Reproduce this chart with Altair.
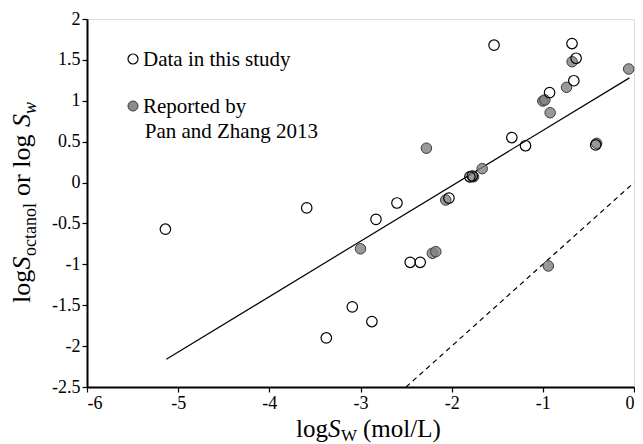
import altair as alt
import pandas as pd

# ---- data ----
study_x = [-5.14, -3.59, -3.375, -3.09, -2.875, -2.83, -2.60, -2.455, -2.345, -2.03,
           -1.80, -1.774, -1.535, -1.34, -1.19, -0.926, -0.68, -0.635, -0.66, -0.42]
study_y = [-0.57, -0.31, -1.90, -1.52, -1.70, -0.45, -0.25, -0.975, -0.975, -0.19,
           0.07, 0.08, 1.68, 0.55, 0.45, 1.10, 1.70, 1.52, 1.245, 0.46]

pan_x = [-3.00, -2.212, -2.174, -2.277, -2.065, -1.76, -1.665, -1.00, -0.978, -0.92,
         -0.74, -0.679, -0.058, -0.41, -0.94]
pan_y = [-0.81, -0.865, -0.845, 0.42, -0.213, 0.07, 0.17, 0.997, 1.01, 0.854,
         1.165, 1.478, 1.389, 0.48, -1.02]

fit_x = [-5.13, -0.05]
fit_y = [-2.16, 1.28]

one_x = [-2.5, 0.0]
one_y = [-2.5, 0.0]

x_ticks = [-6, -5, -4, -3, -2, -1, 0]
y_ticks = [-2.5, -2, -1.5, -1, -0.5, 0, 0.5, 1, 1.5, 2]

legend_labels = ["Data in this study", "Reported by", "Pan and Zhang 2013"]

FONT = "Liberation Serif"

xs = alt.Scale(domain=[-6, 0], nice=False, zero=False)
ys = alt.Scale(domain=[-2.5, 2], nice=False, zero=False)

xaxis = alt.Axis(values=x_ticks, title=None, grid=False, tickSize=5, tickColor="black",
                 domainColor="black", domainWidth=2, tickWidth=1.2,
                 labelFont=FONT, labelFontSize=18, labelColor="black", labelPadding=2,
                 labelExpr="datum.value + ''")
yaxis = alt.Axis(values=y_ticks, title=None, grid=False, tickSize=5, tickColor="black",
                 domainColor="black", domainWidth=2, tickWidth=1.2,
                 labelFont=FONT, labelFontSize=18, labelColor="black", labelPadding=2,
                 labelExpr="datum.value + ''")

study = pd.DataFrame({"x": study_x, "y": study_y})
pan = pd.DataFrame({"x": pan_x, "y": pan_y})
fit = pd.DataFrame({"x": fit_x, "y": fit_y})
one = pd.DataFrame({"x": one_x, "y": one_y})

base_x = alt.X("x:Q", scale=xs, axis=xaxis)
base_y = alt.Y("y:Q", scale=ys, axis=yaxis)

fit_line = alt.Chart(fit).mark_line(color="black", strokeWidth=1.2).encode(x=base_x, y=base_y)
one_line = alt.Chart(one).mark_line(color="black", strokeWidth=1.2, strokeDash=[5, 4]).encode(
    x=alt.X("x:Q", scale=xs), y=alt.Y("y:Q", scale=ys))
pan_pts = alt.Chart(pan).mark_point(shape="circle", size=110, filled=True, fill="#808080",
                                    fillOpacity=0.8, stroke="#3a3a3a", strokeWidth=1,
                                    opacity=1).encode(
    x=alt.X("x:Q", scale=xs), y=alt.Y("y:Q", scale=ys))
study_pts = alt.Chart(study).mark_point(shape="circle", size=110, filled=False,
                                        stroke="black", strokeWidth=1.2, opacity=1).encode(
    x=alt.X("x:Q", scale=xs), y=alt.Y("y:Q", scale=ys))


def txt(s, x, y, size, style="normal", angle=0):
    d = pd.DataFrame({"t": [s]})
    kw = dict(font=FONT, fontSize=size, fontStyle=style, align="left",
              baseline="alphabetic", color="black")
    if angle:
        kw["angle"] = angle
    return alt.Chart(d).mark_text(**kw).encode(text="t:N", x=alt.value(x), y=alt.value(y))


def legend_pt(x, y, gray):
    d = pd.DataFrame({"t": [0]})
    if gray:
        m = alt.Chart(d).mark_point(shape="circle", size=100, filled=True, fill="#808080",
                                    fillOpacity=0.9, stroke="#3a3a3a", strokeWidth=1, opacity=1)
    else:
        m = alt.Chart(d).mark_point(shape="circle", size=100, filled=False, stroke="black",
                                    strokeWidth=1.2, opacity=1)
    return m.encode(x=alt.value(x), y=alt.value(y))


layers = [fit_line, one_line, pan_pts, study_pts,
          legend_pt(46, 40, False), legend_pt(46, 87, True),
          txt(legend_labels[0], 56, 47, 21),
          txt(legend_labels[1], 56, 94, 21),
          txt(legend_labels[2], 57.7, 118.7, 21),
          # x title: log S_W (mol/L)
          txt("log", 209, 418, 25),
          txt("S", 241, 418, 25, "italic"),
          txt("W", 254, 422, 17),
          txt("(mol/L)", 276, 418, 25),
          # y title: log S_octanol or log S_w (rotated)
          txt("log", -57, 284, 26, angle=270),
          txt("S", -57, 250.5, 26, "italic", angle=270),
          txt("octanol", -51, 237, 18, angle=270),
          txt("or log", -57, 177, 26, angle=270),
          txt("S", -57, 108, 26, "italic", angle=270),
          txt("w", -51, 95, 18, "italic", angle=270),
          ]

chart = alt.layer(*layers).properties(
    width=547, height=368,
    autosize=alt.AutoSizeParams(type="none"),
    padding={"left": 79, "top": 11, "right": 1, "bottom": 60},
).configure_view(stroke="black", strokeWidth=1.5).configure(background="white")

chart.save("out.html", embed_options={"renderer": "svg", "actions": False})
